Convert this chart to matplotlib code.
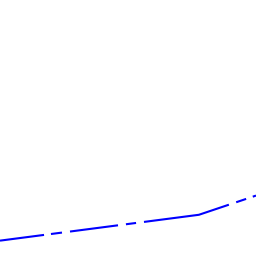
import matplotlib as mpl
mpl.use("Agg")
import matplotlib.pyplot as plt

# Data (axes fraction units, no visible axes)
x_vals = [0.0, 0.777, 1.0]
y_vals = [0.060, 0.161, 0.236]

# Irregular dash pattern, in pixels along the path
dash_px = [44.4, 7.0, 11.1, 8.1, 48.4, 8.0, 10.2, 8.0, 87.0, 7.7, 10.5, 7.0, 30.0, 7.0]

mpl.rcParams['lines.scale_dashes'] = False
dpi = 100
fig = plt.figure(figsize=(2.56, 2.56), dpi=dpi)
ax = fig.add_axes([0, 0, 1, 1])
ax.set_xlim(0, 1)
ax.set_ylim(0, 1)
ax.axis("off")

dash_pt = [d * 72 / dpi for d in dash_px]
ax.plot(x_vals, y_vals, color="#0000ff", lw=1.5, dashes=dash_pt,
        solid_joinstyle="miter")

fig.savefig("out.png", dpi=dpi, facecolor="white")
